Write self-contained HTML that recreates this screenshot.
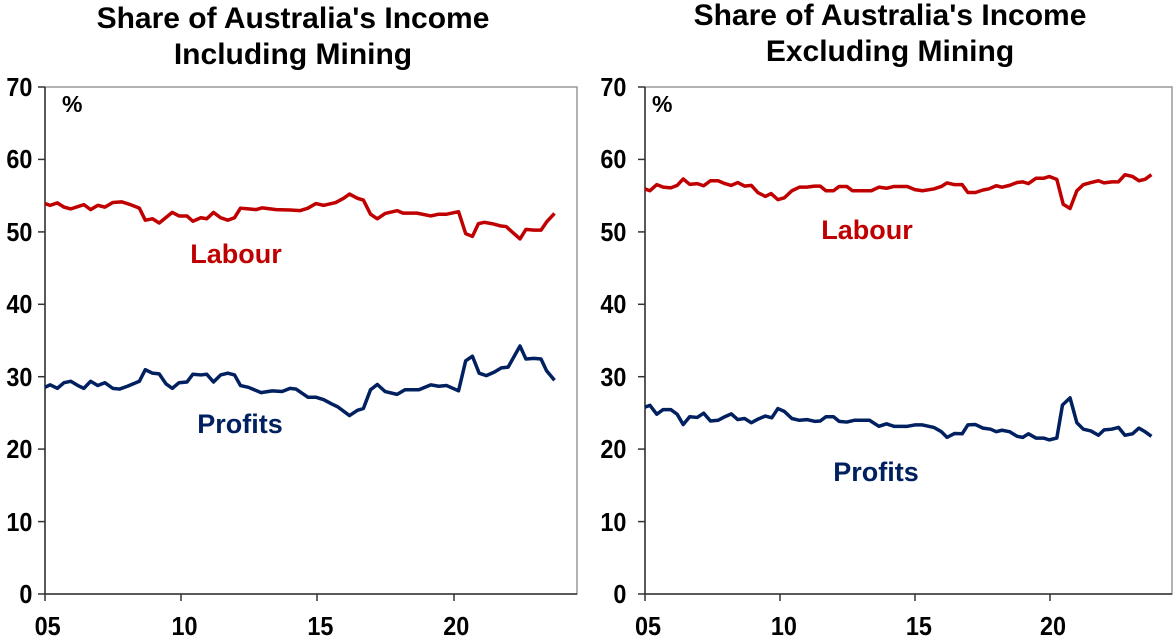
<!DOCTYPE html>
<html><head><meta charset="utf-8"><style>
body{margin:0;background:#fff;}
svg{display:block;font-family:"Liberation Sans",Arial,sans-serif;font-weight:bold;}
</style></head><body>
<svg width="1176" height="636" viewBox="0 0 1176 636">
<g font-size="30" text-anchor="middle" fill="#000">
<text x="293" y="28">Share of Australia's Income</text>
<text x="293" y="64">Including Mining</text>
<text x="890" y="25">Share of Australia's Income</text>
<text x="890" y="61">Excluding Mining</text>
</g>
<!-- Left frame -->
<rect x="45" y="87" width="532" height="507" fill="none" stroke="#999" stroke-width="1.5"/>
<line x1="45" y1="87" x2="45" y2="594" stroke="#333" stroke-width="1.5"/>
<line x1="45" y1="594" x2="577" y2="594" stroke="#333" stroke-width="1.5"/>
<g stroke="#333" stroke-width="1.5">
<line x1="38" y1="87" x2="45" y2="87"/><line x1="38" y1="159.4" x2="45" y2="159.4"/><line x1="38" y1="231.9" x2="45" y2="231.9"/><line x1="38" y1="304.3" x2="45" y2="304.3"/><line x1="38" y1="376.7" x2="45" y2="376.7"/><line x1="38" y1="449.1" x2="45" y2="449.1"/><line x1="38" y1="521.6" x2="45" y2="521.6"/><line x1="38" y1="594" x2="45" y2="594"/>
<line x1="45" y1="594" x2="45" y2="601"/><line x1="181" y1="594" x2="181" y2="601"/><line x1="317" y1="594" x2="317" y2="601"/><line x1="454" y1="594" x2="454" y2="601"/>
</g>
<g font-size="26" text-anchor="end" fill="#000" transform="scale(0.9,1)">
<text x="36" y="96">70</text><text x="36" y="168">60</text><text x="36" y="241">50</text><text x="36" y="313">40</text><text x="36" y="386">30</text><text x="36" y="458">20</text><text x="36" y="531">10</text><text x="36" y="603">0</text>
</g>
<g font-size="26" text-anchor="middle" fill="#000" transform="scale(0.9,1)">
<text x="53" y="635">05</text><text x="205" y="635">10</text><text x="356" y="635">15</text><text x="507" y="635">20</text>
</g>
<text x="62" y="112" font-size="23">%</text>
<g transform="matrix(0.3965,0,0,0.3533,-13.29,81.7)" fill="none" stroke-width="3.5" stroke-linejoin="round">
<polyline vector-effect="non-scaling-stroke" stroke="#c00000" points="147,345 160,350 178,343 195,355 212,360 245,348 262,362 280,350 298,355 318,342 340,340 360,347 385,358 400,392 418,388 435,400 468,370 485,380 505,380 520,395 540,385 555,388 572,370 590,385 608,392 625,385 640,358 660,360 680,362 695,357 730,362 765,363 790,365 810,358 830,345 850,350 880,342 900,330 915,318 935,330 950,335 968,375 985,388 1005,373 1035,365 1050,372 1085,372 1120,380 1140,375 1160,375 1190,368 1208,430 1225,438 1240,402 1255,398 1275,402 1295,408 1310,410 1345,445 1360,418 1380,420 1398,420 1412,397 1432,373"/>
<polyline vector-effect="non-scaling-stroke" stroke="#002060" points="147,865 160,858 178,868 195,852 212,848 230,860 245,868 262,848 280,860 298,852 318,868 335,870 355,862 385,848 400,815 418,825 435,827 452,855 468,868 485,852 505,850 520,828 540,830 555,828 572,850 590,830 608,825 625,830 640,860 660,865 692,880 720,875 745,877 765,868 780,870 810,893 830,893 850,900 870,912 885,920 915,945 935,930 950,925 968,872 985,857 1005,877 1035,885 1055,872 1090,872 1120,858 1140,862 1160,860 1190,875 1208,790 1225,777 1242,825 1260,832 1280,822 1298,810 1315,808 1345,748 1360,785 1380,783 1398,785 1412,818 1432,845"/>
</g>
<text x="236" y="263" font-size="27" text-anchor="middle" fill="#c00000">Labour</text>
<text x="240" y="433" font-size="27" text-anchor="middle" fill="#002060">Profits</text>

<!-- Right frame -->
<rect x="645" y="87" width="527" height="507" fill="none" stroke="#999" stroke-width="1.5"/>
<line x1="645" y1="87" x2="645" y2="594" stroke="#333" stroke-width="1.5"/>
<line x1="645" y1="594" x2="1172" y2="594" stroke="#333" stroke-width="1.5"/>
<g stroke="#333" stroke-width="1.5">
<line x1="638" y1="87" x2="645" y2="87"/><line x1="638" y1="159.4" x2="645" y2="159.4"/><line x1="638" y1="231.9" x2="645" y2="231.9"/><line x1="638" y1="304.3" x2="645" y2="304.3"/><line x1="638" y1="376.7" x2="645" y2="376.7"/><line x1="638" y1="449.1" x2="645" y2="449.1"/><line x1="638" y1="521.6" x2="645" y2="521.6"/><line x1="638" y1="594" x2="645" y2="594"/>
<line x1="645" y1="594" x2="645" y2="601"/><line x1="780" y1="594" x2="780" y2="601"/><line x1="915" y1="594" x2="915" y2="601"/><line x1="1050" y1="594" x2="1050" y2="601"/>
</g>
<g font-size="26" text-anchor="end" fill="#000" transform="scale(0.9,1)">
<text x="696" y="96">70</text><text x="696" y="168">60</text><text x="696" y="241">50</text><text x="696" y="313">40</text><text x="696" y="386">30</text><text x="696" y="458">20</text><text x="696" y="531">10</text><text x="696" y="603">0</text>
</g>
<g font-size="26" text-anchor="middle" fill="#000" transform="scale(0.9,1)">
<text x="720" y="635">05</text><text x="871" y="635">10</text><text x="1021" y="635">15</text><text x="1170" y="635">20</text>
</g>
<text x="652" y="112" font-size="23">%</text>
<g transform="matrix(0.3785,0,0,0.3559,589.36,80.4)" fill="none" stroke-width="3.5" stroke-linejoin="round">
<polyline vector-effect="non-scaling-stroke" stroke="#c00000" points="147,305 160,310 178,293 195,300 215,302 232,295 248,277 265,292 285,290 302,296 320,282 340,282 358,290 375,295 392,287 410,297 428,295 445,315 465,326 480,318 498,335 515,330 535,310 555,300 575,300 595,297 610,297 625,310 645,310 660,298 680,298 695,310 715,310 745,310 765,300 785,303 805,298 840,298 860,307 880,310 910,305 930,298 945,288 965,293 985,293 1000,315 1020,315 1040,308 1055,305 1075,296 1090,300 1110,295 1130,287 1145,285 1160,290 1180,275 1200,275 1215,270 1235,278 1252,348 1270,360 1288,310 1305,293 1325,287 1345,282 1360,288 1380,285 1398,285 1415,265 1435,270 1452,282 1468,278 1485,265"/>
<polyline vector-effect="non-scaling-stroke" stroke="#002060" points="147,918 160,913 178,938 195,925 215,925 232,938 248,967 265,945 285,947 302,935 320,957 340,955 358,945 375,937 392,953 410,950 428,962 445,952 465,943 482,948 498,922 515,930 535,950 555,955 575,953 595,958 610,957 625,945 645,945 660,958 680,960 700,955 740,955 765,972 785,965 805,972 840,972 860,968 880,968 910,975 930,987 945,1003 965,992 985,993 1000,968 1020,967 1040,977 1060,980 1075,987 1090,983 1110,987 1130,1000 1145,1003 1160,993 1180,1005 1200,1005 1215,1010 1235,1005 1250,912 1270,892 1288,962 1305,980 1325,985 1345,997 1360,982 1380,980 1398,975 1415,997 1435,993 1452,977 1468,987 1485,1000"/>
</g>
<text x="867" y="239" font-size="27" text-anchor="middle" fill="#c00000">Labour</text>
<text x="876" y="481" font-size="27" text-anchor="middle" fill="#002060">Profits</text>
</svg>
</body></html>
